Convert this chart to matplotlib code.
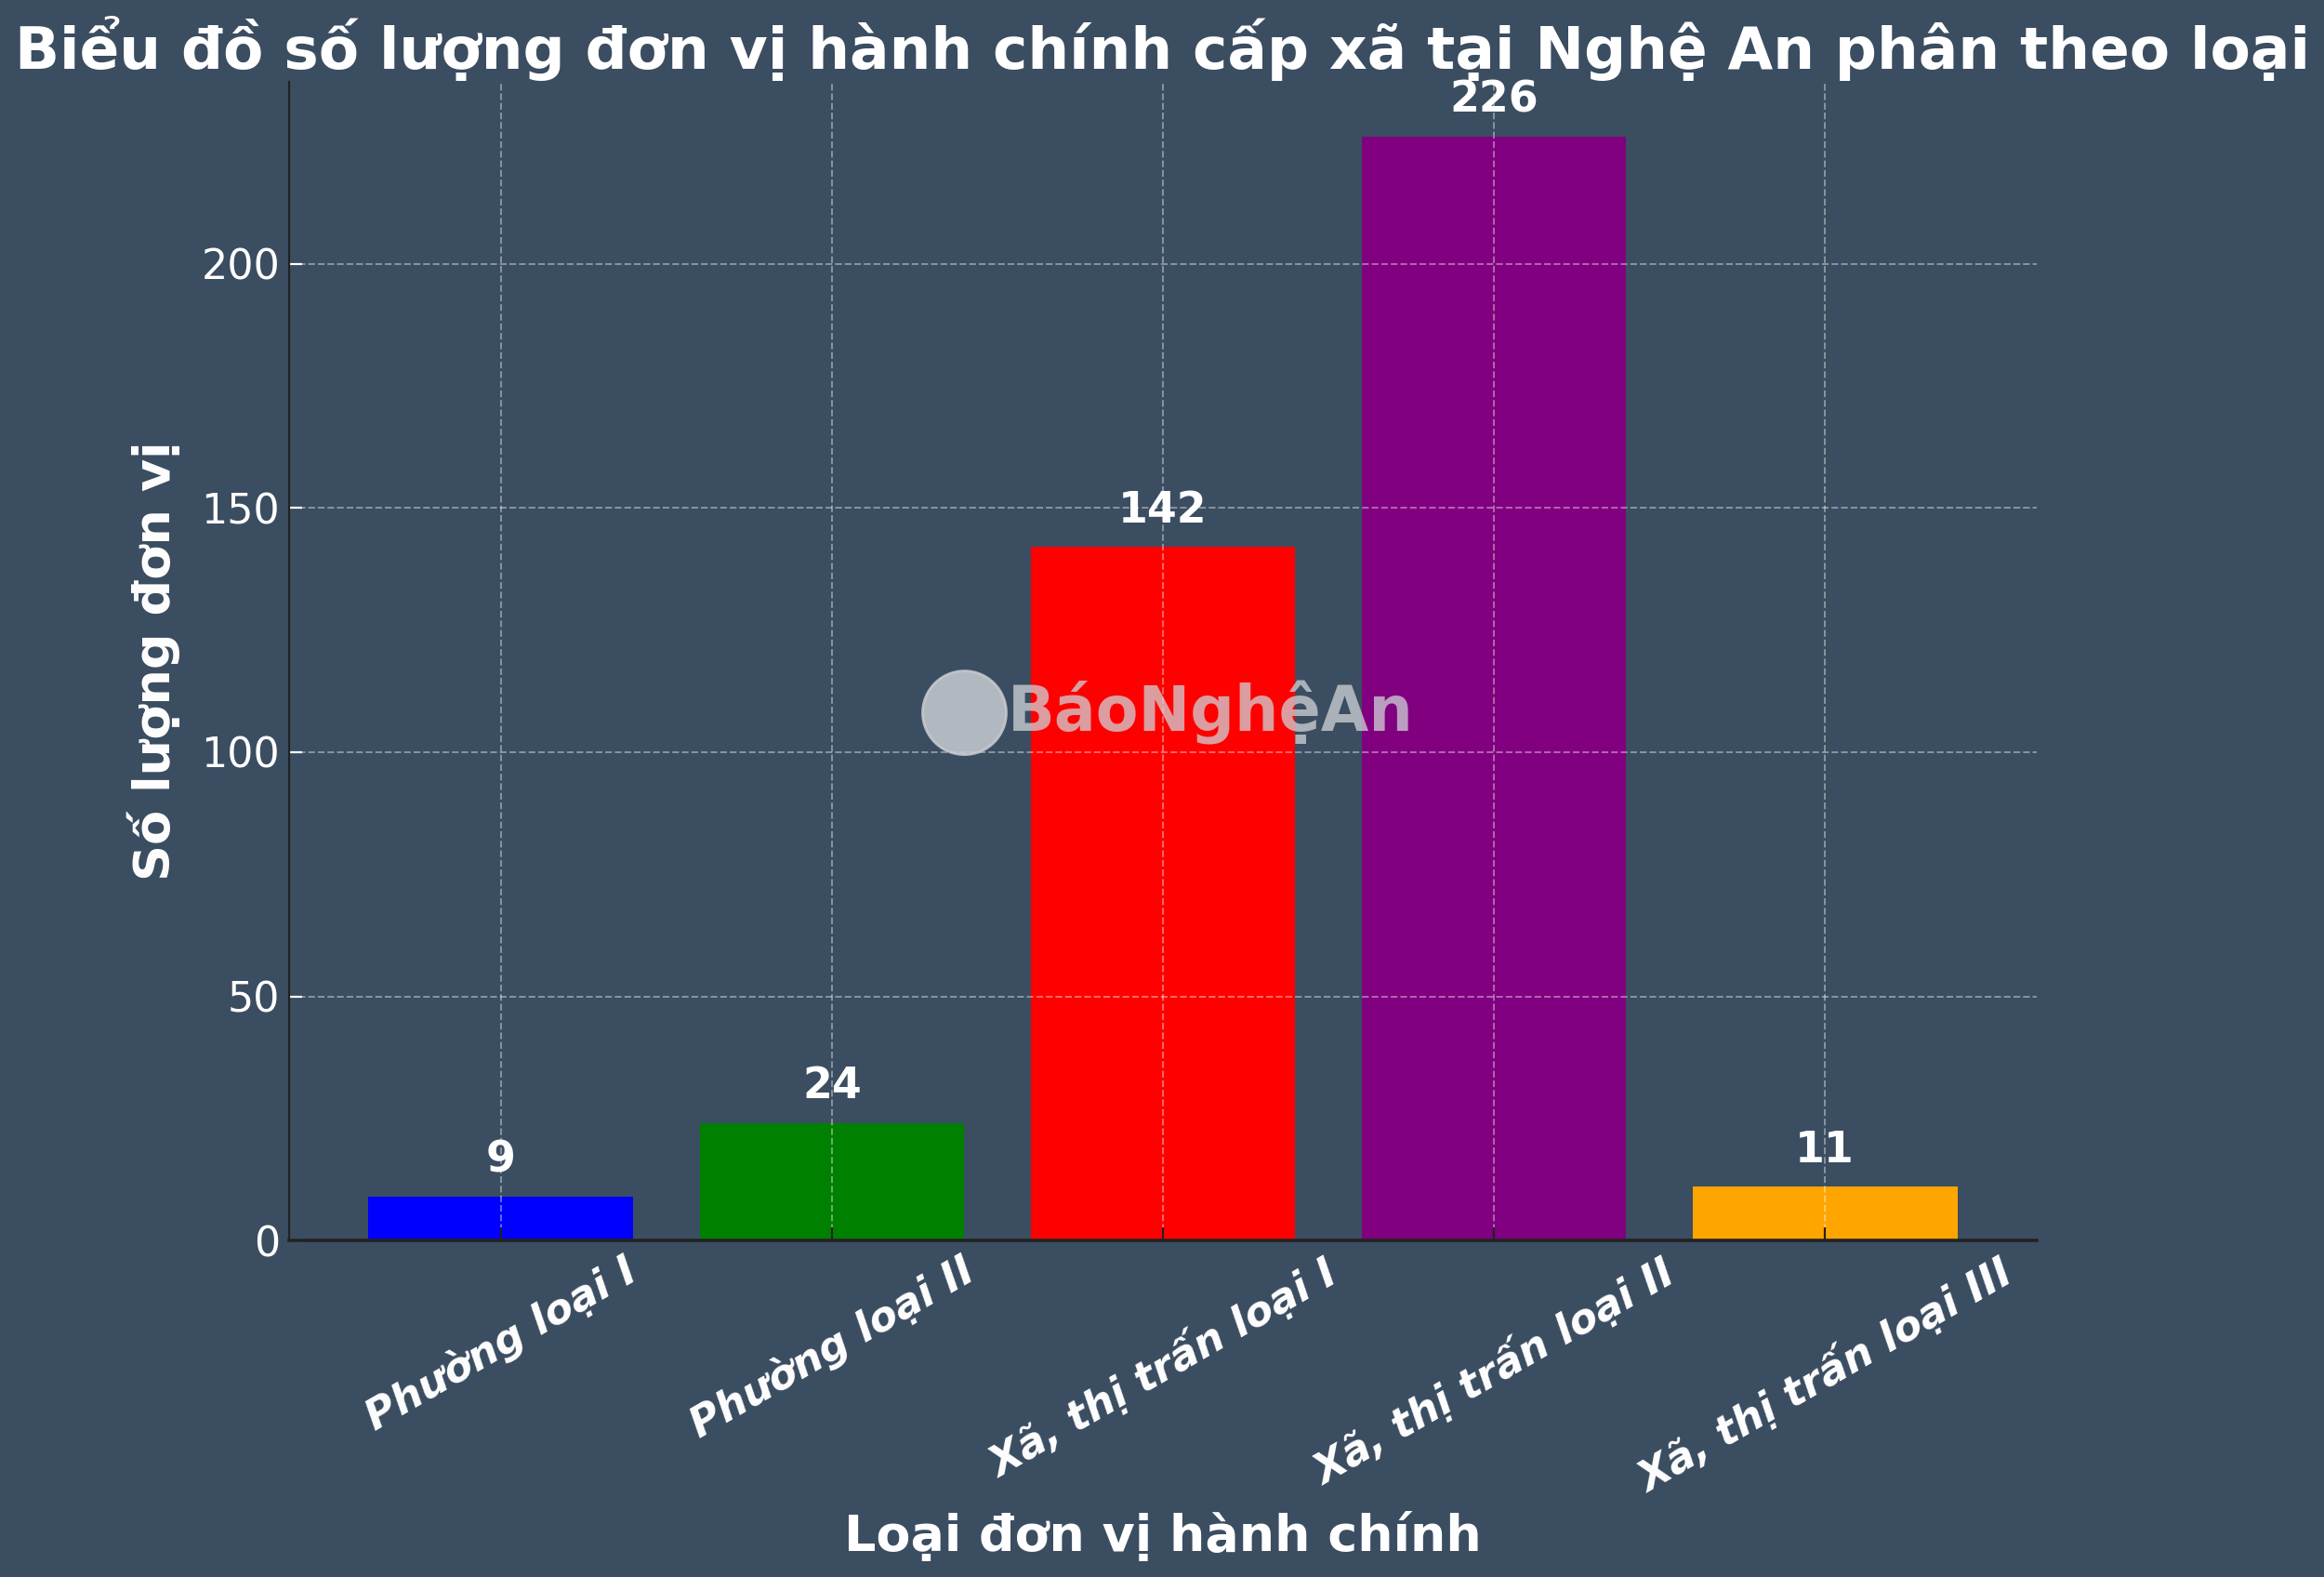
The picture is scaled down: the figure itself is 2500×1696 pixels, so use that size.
import matplotlib
matplotlib.use("Agg")
import matplotlib.pyplot as plt
from matplotlib.patches import Ellipse

# ==========================================================================================
# Dữ liệu
# ==========================================================================================

categories = ["Phường loại I", "Phường loại II", "Xã, thị trấn loại I",
              "Xã, thị trấn loại II", "Xã, thị trấn loại III"]
counts = [9, 24, 142, 226, 11]
bar_colors = ["blue", "green", "red", "purple", "orange"]

title = "Biểu đồ số lượng đơn vị hành chính cấp xã tại Nghệ An phân theo loại"
xlabel = "Loại đơn vị hành chính"
ylabel = "Số lượng đơn vị"

# ==========================================================================================
# Cấu hình
# ==========================================================================================

bg = "#3b4d61"
plt.rcParams["font.family"] = ["DejaVu Sans"]

fig = plt.figure(figsize=(12.5, 8.48), dpi=200, facecolor=bg)
ax = fig.add_axes([0.1244, 0.2134, 0.752, 0.7347], facecolor=bg)

bars = ax.bar(categories, counts, color=bar_colors, width=0.8)

for rect, v in zip(bars, counts):
    ax.annotate(str(v), (rect.get_x() + rect.get_width() / 2, rect.get_height()),
                xytext=(0, 6), textcoords="offset points",
                ha="center", va="bottom", color="white",
                fontsize=16.5, fontweight="bold")

ax.set_title(title, color="white", fontsize=22.7, fontweight="bold", pad=5)
ax.set_xlabel(xlabel, color="white", fontsize=19.4, fontweight="bold", labelpad=4)
ax.set_ylabel(ylabel, color="white", fontsize=19.5, fontweight="bold", labelpad=8)

ax.set_yticks([0, 50, 100, 150, 200])
ax.tick_params(axis="y", colors="white", labelsize=16, direction="in", length=5)
ax.tick_params(axis="x", colors="#222222", labelcolor="white", direction="in", length=5)
for lab in ax.get_xticklabels():
    lab.set_rotation(30)
    lab.set_ha("center")
    lab.set_fontsize(16)
    lab.set_fontweight("bold")
    lab.set_fontstyle("italic")

ax.grid(True, linestyle="--", color="white", alpha=0.4, linewidth=0.7)
ax.set_axisbelow(False)

for side in ["top", "right"]:
    ax.spines[side].set_visible(False)
for side in ["left", "bottom"]:
    ax.spines[side].set_color("#222222")
    ax.spines[side].set_zorder(4)
ax.spines["bottom"].set_linewidth(1.3)

# watermark
fig.patches.append(Ellipse((0.415, 0.548), 90 / 2500, 90 / 1696, transform=fig.transFigure,
                           color="#c8ccd0", alpha=0.85, zorder=10))
fig.text(0.521, 0.548, "BáoNghệAn", color="#d0d3d6", alpha=0.75, fontsize=24,
         fontweight="bold", ha="center", va="center", zorder=10)

fig.savefig("out.png", dpi=200, facecolor=bg)
